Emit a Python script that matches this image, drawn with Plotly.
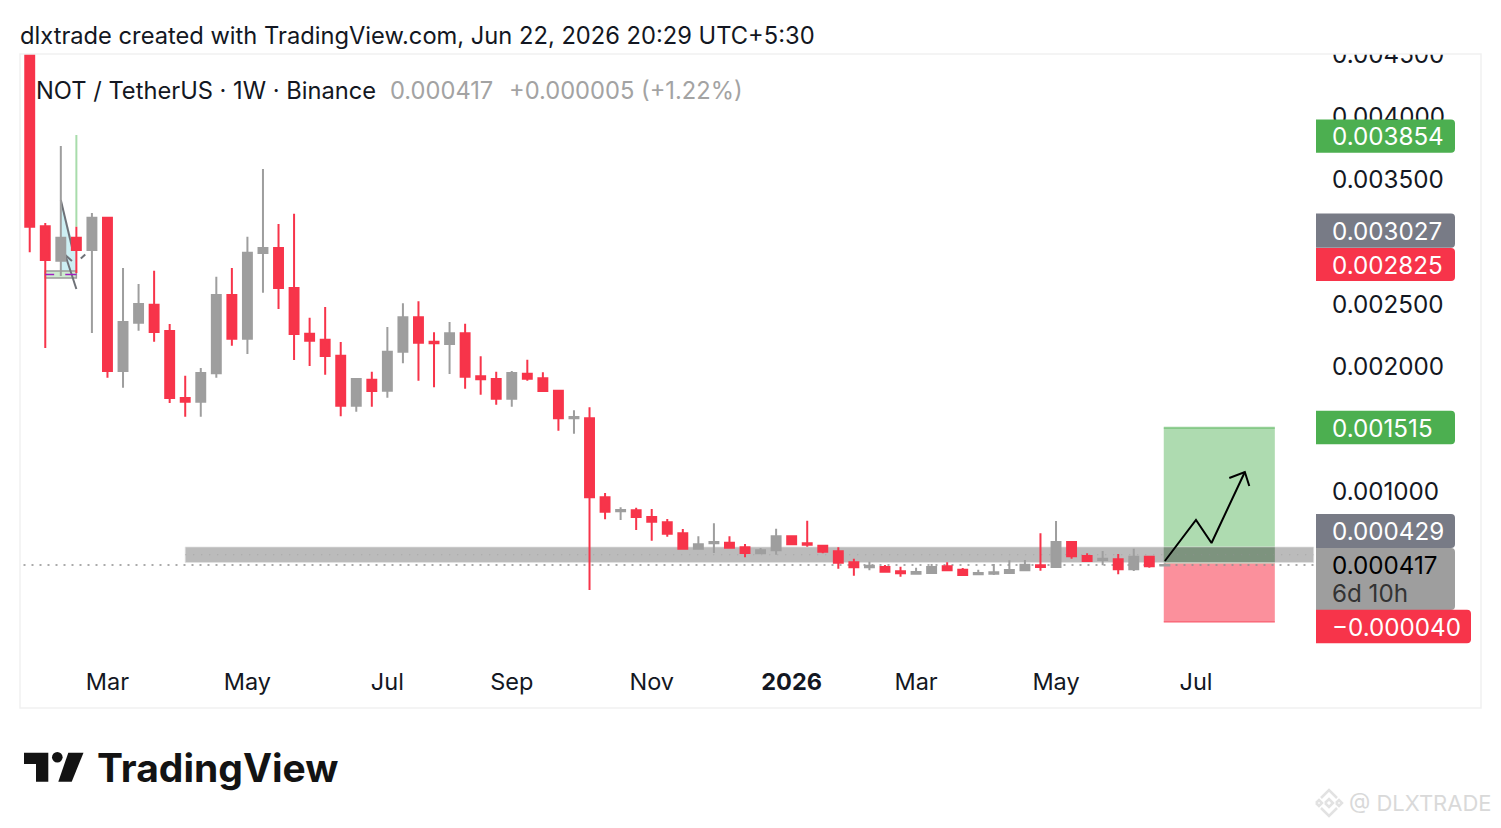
import pandas as pd
import plotly.graph_objects as go

# ---------- data ----------
week_dates = pd.date_range("2025-01-27", periods=74, freq="7D")
opens = [0.004750,0.003126,0.002850,0.003034,0.002936,0.003194,0.001968,0.002354,0.002498,0.002288,
         0.001752,0.001722,0.001950,0.002576,0.002226,0.002912,0.002952,0.002632,0.002266,0.002218,
         0.002090,0.001690,0.001898,0.001810,0.002122,0.002398,0.002202,0.002184,0.002270,0.001926,
         0.001904,0.001746,0.001946,0.001910,0.001810,0.001590,0.001590,0.000958,0.000846,0.000854,
         0.000800,0.000758,0.000670,0.000546,0.000590,0.000594,0.000558,0.000510,0.000534,0.000646,
         0.000590,0.000570,0.000526,0.000438,0.000398,0.000400,0.000366,0.000346,0.000352,0.000406,
         0.000378,0.000342,0.000346,0.000352,0.000374,0.000414,0.000400,0.000600,0.000488,0.000456,
         0.000462,0.000382,0.000482,0.000412]
highs = [0.004800,0.003152,0.003768,0.003122,0.003232,0.003194,0.002792,0.002664,0.002770,0.002344,
         0.001930,0.001992,0.002722,0.002792,0.003042,0.003584,0.003144,0.003226,0.002394,0.002480,
         0.002200,0.001910,0.001962,0.002320,0.002510,0.002526,0.002278,0.002360,0.002346,0.002086,
         0.001962,0.001968,0.002058,0.001958,0.001816,0.001654,0.001678,0.000992,0.000878,0.000874,
         0.000864,0.000784,0.000704,0.000646,0.000750,0.000646,0.000584,0.000552,0.000706,0.000654,
         0.000770,0.000576,0.000558,0.000466,0.000442,0.000416,0.000402,0.000394,0.000424,0.000438,
         0.000392,0.000378,0.000424,0.000454,0.000456,0.000670,0.000768,0.000608,0.000510,0.000528,
         0.000504,0.000546,0.000490,0.000429]
lows = [0.002918,0.002152,0.002728,0.002752,0.002272,0.001914,0.001834,0.002290,0.002202,0.001712,
        0.001602,0.001602,0.001914,0.002170,0.002104,0.002594,0.002464,0.002056,0.002008,0.001938,
        0.001606,0.001642,0.001682,0.001754,0.002030,0.001890,0.001838,0.001944,0.001826,0.001778,
        0.001698,0.001682,0.001890,0.001808,0.001490,0.001466,0.000216,0.000782,0.000776,0.000696,
        0.000610,0.000642,0.000546,0.000546,0.000512,0.000546,0.000478,0.000502,0.000498,0.000576,
        0.000562,0.000510,0.000386,0.000330,0.000374,0.000362,0.000322,0.000346,0.000352,0.000366,
        0.000336,0.000334,0.000336,0.000352,0.000374,0.000370,0.000400,0.000466,0.000440,0.000414,
        0.000342,0.000368,0.000394,0.000408]
closes = [0.003122,0.002856,0.003034,0.002936,0.003194,0.001968,0.002360,0.002504,0.002280,0.001752,
          0.001722,0.001952,0.002576,0.002226,0.002914,0.002952,0.002632,0.002264,0.002210,0.002088,
          0.001690,0.001904,0.001808,0.002122,0.002398,0.002194,0.002190,0.002270,0.001922,0.001902,
          0.001746,0.001952,0.001906,0.001808,0.001590,0.001600,0.000958,0.000842,0.000856,0.000800,
          0.000762,0.000666,0.000546,0.000582,0.000600,0.000554,0.000512,0.000534,0.000646,0.000582,
          0.000578,0.000522,0.000434,0.000398,0.000410,0.000362,0.000350,0.000360,0.000400,0.000374,
          0.000336,0.000352,0.000358,0.000376,0.000418,0.000400,0.000600,0.000486,0.000448,0.000466,
          0.000382,0.000482,0.000406,0.000417]

tick_dates = ["2025-03-03","2025-05-05","2025-07-07","2025-09-01","2025-11-03",
              "2026-01-05","2026-03-02","2026-05-04","2026-07-06"]
tick_labels = ["Mar","May","Jul","Sep","Nov","<b>2026</b>","Mar","May","Jul"]
price_ticks = [0.001,0.002,0.0025,0.0035,0.004,0.0045]

last_price = 0.000417
zone_x = ["2025-04-07","2026-08-28"]
zone_y = [0.000436,0.000560]
zone_mid = 0.000498
pos_x = ["2026-06-21 12:00","2026-08-10 12:00"]
pos_target, pos_entry, pos_stop = 0.001515,0.000429,-0.000040
arrow_x = ["2026-06-22","2026-07-06","2026-07-13","2026-07-28"]
arrow_y = [0.000448,0.000776,0.000592,0.001160]
barb_x = ["2026-07-21","2026-07-28","2026-07-30"]
barb_y = [0.001112,0.001160,0.001048]

tags = [  # text, top px, bottom px, fill, text colour
    ("0.003854",119.5,152.8,"#4caf50","#ffffff"),
    ("0.003027",213.5,247.8,"#787b86","#ffffff"),
    ("0.002825",248,281,"#f7344a","#ffffff"),
    ("0.001515",410.8,444.3,"#4caf50","#ffffff"),
    ("0.000429",514,548,"#787b86","#ffffff"),
]

RED, GREY = "#f7344a", "#9e9e9e"
FONT = "Inter"

# page pixel -> paper helpers (page has an 8px body margin)
L, R, T, B = 20, 1315, 54, 660
xp = lambda x: (x - L) / (R - L)
yp = lambda y: (B - y) / (B - T)

def rrect(x0, y0, x1, y1, r=4):
    a, b = xp(x0), yp(y0)
    c, d = xp(x1), yp(y1)
    rx, ry = r / (R - L), r / (B - T)
    return (f"M {a} {b} L {c-rx} {b} Q {c} {b} {c} {b-ry} L {c} {d+ry} "
            f"Q {c} {d} {c-rx} {d} L {a} {d} Z")

fig = go.Figure()
fig.add_trace(go.Candlestick(
    x=week_dates, open=opens, high=highs, low=lows, close=closes,
    increasing=dict(line=dict(color=GREY, width=2), fillcolor=GREY),
    decreasing=dict(line=dict(color=RED, width=2), fillcolor=RED),
    whiskerwidth=0, hoverinfo="skip", showlegend=False))
fig.add_trace(go.Scatter(x=arrow_x, y=arrow_y, mode="lines",
    line=dict(color="#000000", width=2), hoverinfo="skip", showlegend=False))
fig.add_trace(go.Scatter(x=barb_x, y=barb_y, mode="lines",
    line=dict(color="#000000", width=2), hoverinfo="skip", showlegend=False))

shapes = []
def dline(x0, y0, x1, y1, color, width=2, dash="solid", layer="below"):
    shapes.append(dict(type="line", xref="x", yref="y", x0=x0, y0=y0, x1=x1, y1=y1,
                       line=dict(color=color, width=width, dash=dash), layer=layer))

# small drawing on the left
cyan_pts = [("2025-02-10",0.003336),("2025-02-15",0.003016),("2025-02-17",0.002936),
            ("2025-02-17",0.002768),("2025-02-10",0.002768)]
shapes.append(dict(type="path", xref="x", yref="y", layer="below", fillcolor="#cdeff3",
                   line=dict(width=0),
                   path="M " + " L ".join(f"{a} {b}" for a, b in cyan_pts) + " Z"))
shapes.append(dict(type="rect", xref="x", yref="y", x0="2025-02-03", x1="2025-02-17",
                   y0=0.002712, y1=0.002768, fillcolor="#cdebcf",
                   line=dict(color="#9a9a9a", width=1.5), layer="below"))
dline("2025-02-17",0.003122,"2025-02-17",0.003856,"#a8dcab")
dline("2025-02-10",0.003336,"2025-02-15",0.002960,"#6f7278",2)
dline("2025-02-12",0.002896,"2025-02-17",0.002624,"#6f7278",2)
dline("2025-02-12",0.002896,"2025-02-15",0.002848,"#6f7278",2)
dline("2025-02-19",0.002868,"2025-02-21",0.002900,"#6f7278",2)
dline("2025-02-03",0.002740,"2025-02-07",0.002740,"#a020c0",1.5,layer="above")
dline("2025-02-12",0.002740,"2025-02-17",0.002740,"#a020c0",1.5,layer="above")

# long position
shapes.append(dict(type="rect", xref="x", yref="y", x0=pos_x[0], x1=pos_x[1], y0=pos_entry, y1=pos_target,
                   fillcolor="rgba(76,175,80,0.45)", line=dict(width=0), layer="below"))
shapes.append(dict(type="rect", xref="x", yref="y", x0=pos_x[0], x1=pos_x[1], y0=pos_stop, y1=pos_entry,
                   fillcolor="rgba(247,52,74,0.55)", line=dict(width=0), layer="below"))
dline(pos_x[0],pos_target,pos_x[1],pos_target,"rgba(76,175,80,0.55)",2)
dline(pos_x[0],pos_stop,pos_x[1],pos_stop,"rgba(247,52,74,0.4)",2)

# grey zone
shapes.append(dict(type="rect", xref="x", yref="y", x0=zone_x[0], x1=zone_x[1], y0=zone_y[0], y1=zone_y[1],
                   fillcolor="rgba(120,120,120,0.5)", line=dict(color="rgba(225,225,225,0.7)", width=1), layer="below"))
shapes.append(dict(type="rect", xref="x", yref="y", x0=pos_x[0], x1=pos_x[1], y0=zone_y[0], y1=zone_y[1],
                   fillcolor="rgba(50,70,50,0.22)", line=dict(width=0), layer="below"))
dline(zone_x[0],zone_mid,zone_x[1],zone_mid,"rgba(150,150,150,0.6)",1,"1px,7px")
# last price
dline(week_dates[0]-pd.Timedelta(days=10),last_price,zone_x[1],last_price,"#8f8f8f",1.5,"2px,6px")

# cover above the pane, for the clipped top tick label
shapes.append(dict(type="rect", xref="paper", yref="paper", x0=xp(1316), x1=xp(1500), y0=yp(54), y1=yp(10),
                   fillcolor="#ffffff", line=dict(width=0), layer="above"))
# frame
shapes.append(dict(type="rect", xref="paper", yref="paper", x0=xp(20), x1=xp(1481), y0=yp(708), y1=yp(54),
                   fillcolor="rgba(0,0,0,0)", line=dict(color="#f1f1f1", width=1.5), layer="above"))

# price tags
for txt, y0, y1, fill, col in tags:
    shapes.append(dict(type="path", xref="paper", yref="paper", path=rrect(1316,y0,1455,y1),
                       fillcolor=fill, line=dict(width=0), layer="above"))
shapes.append(dict(type="path", xref="paper", yref="paper", path=rrect(1316,548,1455,610),
                   fillcolor="#9e9e9e", line=dict(width=0), layer="above"))
shapes.append(dict(type="path", xref="paper", yref="paper", path=rrect(1316,609.7,1471,643.3),
                   fillcolor=RED, line=dict(width=0), layer="above"))

# TradingView logo
def poly(pts, fill):
    shapes.append(dict(type="path", xref="paper", yref="paper", layer="above", fillcolor=fill,
                       line=dict(width=0),
                       path="M " + " L ".join(f"{xp(a)} {yp(b)}" for a, b in pts) + " Z"))
poly([(24,752.7),(48.3,752.7),(48.3,781.7),(36,781.7),(36,764),(24,764)], "#131313")
shapes.append(dict(type="circle", xref="paper", yref="paper", x0=xp(52), x1=xp(62.6), y0=yp(762.6), y1=yp(752),
                   fillcolor="#131313", line=dict(width=0), layer="above"))
poly([(68.3,752.7),(83.5,752.7),(71.7,781.7),(58.3,781.7)], "#131313")

# Binance watermark glyph
wm = "#e2e2e2"
def stroke(pts):
    shapes.append(dict(type="path", xref="paper", yref="paper", layer="above",
                       line=dict(color=wm, width=2.5),
                       path="M " + " L ".join(f"{xp(a)} {yp(b)}" for a, b in pts)))
stroke([(1321,798),(1329,790),(1337,798)])
stroke([(1321,808),(1329,816),(1337,808)])
stroke([(1325,803),(1329,799),(1333,803),(1329,807),(1325,803)])
stroke([(1316,803),(1319,800),(1322,803),(1319,806),(1316,803)])
stroke([(1336,803),(1339,800),(1342,803),(1339,806),(1336,803)])

def note(x, y, text, size=24.2, color="#131722", anchor="left"):
    return dict(xref="paper", yref="paper", x=xp(x), y=yp(y), text=text, showarrow=False,
                xanchor=anchor, yanchor="middle", align="left",
                font=dict(family=FONT, size=size, color=color), borderpad=0, borderwidth=0)

anns = [
    note(20,36,"dlxtrade created with TradingView.com, Jun 22, 2026 20:29 UTC+5:30",size=23.7),
    note(36,90,"NOT / TetherUS · 1W · Binance",size=23.7),
    note(390.5,90,"0.000417",size=23.7,color="#a3a3a3"),
    note(509,90,"+0.000005 (+1.22%)",size=23.7,color="#a3a3a3"),
]
for txt, y0, y1, fill, col in tags:
    anns.append(note(1332,(y0+y1)/2+0.5,txt,color=col))
anns += [
    note(1332,565.5,"0.000417",color="#000000"),
    note(1332,593.5,"6d 10h",color="#333333"),
    note(1332,627.5,"−0.000040",color="#ffffff"),
    note(97,767,"<b>TradingView</b>",size=39,color="#131313"),
    note(1349,802.5,"@ DLXTRADE",size=22,color="#d9d9d9"),
]

fig.update_layout(
    width=1485, height=812,
    margin=dict(l=12, r=178, t=46, b=160),
    paper_bgcolor="#ffffff", plot_bgcolor="#ffffff",
    showlegend=False, hovermode=False, boxgap=0.18,
    shapes=shapes, annotations=anns,
    font=dict(family=FONT, color="#131722", size=24),
    xaxis=dict(type="date", range=["2025-01-22 15:00","2026-08-28 14:00"],
               rangeslider=dict(visible=False), showgrid=False, zeroline=False, showline=False,
               tickmode="array", tickvals=tick_dates, ticktext=tick_labels,
               ticks="", ticklabelstandoff=5, tickfont=dict(family=FONT, size=23.5, color="#131722")),
    yaxis=dict(range=[-0.000344,0.004504], side="right", showgrid=False, zeroline=False, showline=False,
               tickmode="array", tickvals=price_ticks, tickformat=".6f", ticks="",
               ticklabelstandoff=16, tickfont=dict(family=FONT, size=24.2, color="#131722")),
)
fig.write_html("out.html")
